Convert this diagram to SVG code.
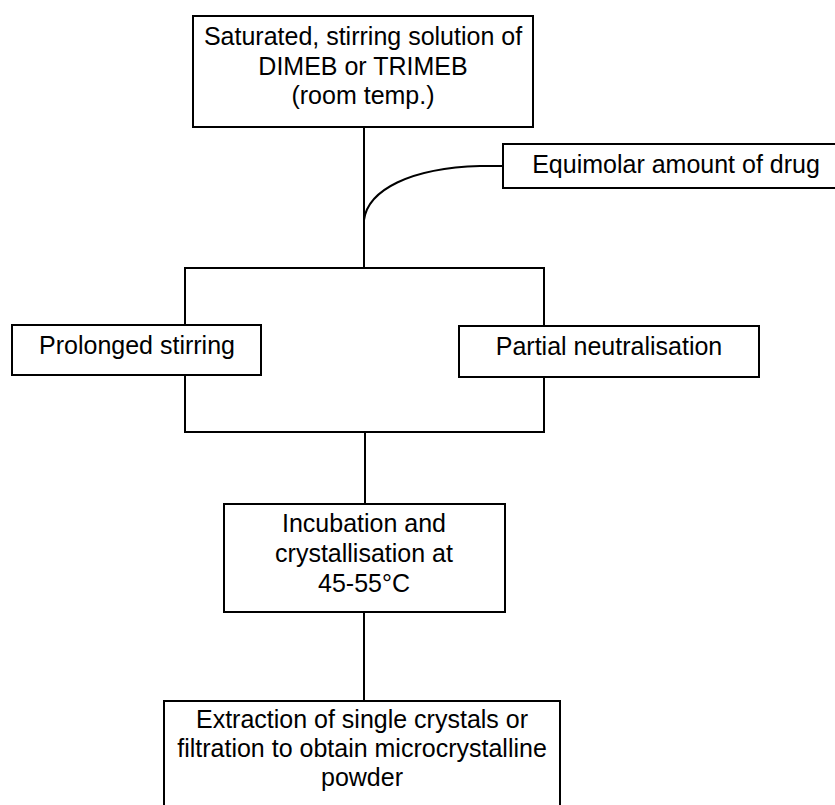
<svg xmlns="http://www.w3.org/2000/svg" width="835" height="805" viewBox="0 0 835 805">
<style>
.box{fill:#fff;stroke:#000;stroke-width:2}
.ln{fill:none;stroke:#000;stroke-width:2}
text{font-family:"Liberation Sans",Arial,sans-serif;font-size:25px;fill:#000;text-anchor:middle}
</style>
<rect width="835" height="805" fill="#fff"/>
<g id="connectors">
<path class="ln" d="M364,127 V268"/>
<path class="ln" d="M503,166 L480,166 C410,168 368,190 364,220"/>
<path class="ln" d="M185,325 V268 H544 V326"/>
<path class="ln" d="M185,375 V432 H544 V377"/>
<path class="ln" d="M365,432 V504"/>
<path class="ln" d="M364,612 V701"/>
</g>
<g id="start">
<rect class="box" x="193" y="16" width="340" height="111"/>
<text x="363" y="45">Saturated, stirring solution of</text>
<text x="363" y="75">DIMEB or TRIMEB</text>
<text x="363" y="104">(room temp.)</text>
</g>
<g id="drug">
<rect class="box" x="503" y="144" width="340" height="44"/>
<text x="676" y="173">Equimolar amount of drug</text>
</g>
<g id="stirring">
<rect class="box" x="12" y="325" width="249" height="50"/>
<text x="137" y="354">Prolonged stirring</text>
</g>
<g id="neutralisation">
<rect class="box" x="459" y="326" width="300" height="51"/>
<text x="609" y="355">Partial neutralisation</text>
</g>
<g id="incubation">
<rect class="box" x="224" y="504" width="281" height="108"/>
<text x="364" y="532">Incubation and</text>
<text x="364" y="562">crystallisation at</text>
<text x="364" y="592">45-55°C</text>
</g>
<g id="extraction">
<rect class="box" x="164" y="701" width="396" height="120"/>
<text x="362" y="728">Extraction of single crystals or</text>
<text x="362" y="757">filtration to obtain microcrystalline</text>
<text x="362" y="786">powder</text>
</g>
</svg>
